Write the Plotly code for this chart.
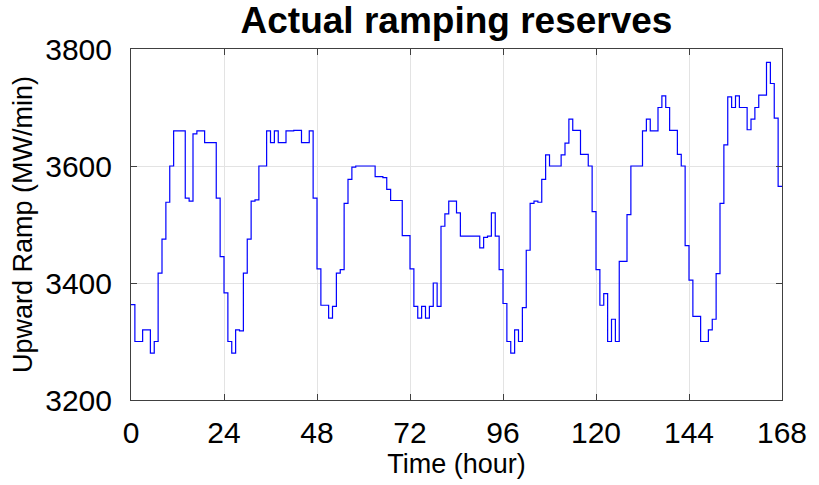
import plotly.graph_objects as go

# Hourly upward ramping reserve over one week (MW/min), one value per hour 0..167
hours = list(range(168))
ramp = [
    3363, 3300, 3300, 3320, 3320, 3280, 3300, 3417, 3475, 3538,
    3600, 3660, 3660, 3660, 3545, 3540, 3655, 3660, 3660, 3640,
    3640, 3640, 3545, 3445, 3383, 3300, 3280, 3320, 3318, 3417,
    3475, 3540, 3542, 3600, 3600, 3660, 3640, 3660, 3640, 3640,
    3660, 3660, 3661, 3661, 3640, 3640, 3660, 3545, 3424, 3362,
    3362, 3340, 3360, 3417, 3423, 3536, 3577, 3598, 3600, 3600,
    3600, 3600, 3600, 3582, 3582, 3580, 3560, 3541, 3541, 3541,
    3481, 3481, 3424, 3360, 3340, 3360, 3340, 3360, 3400, 3360,
    3497, 3518, 3540, 3540, 3520, 3480, 3480, 3480, 3480, 3480,
    3460, 3478, 3480, 3520, 3480, 3423, 3365, 3300, 3280, 3320,
    3300, 3358, 3456, 3536, 3540, 3538, 3577, 3619, 3600, 3600,
    3600, 3619, 3639, 3680, 3661, 3661, 3620, 3620, 3600, 3522,
    3423, 3362, 3382, 3300, 3338, 3300, 3437, 3437, 3517, 3600,
    3600, 3600, 3660, 3680, 3660, 3660, 3700, 3720, 3700, 3661,
    3661, 3620, 3600, 3464, 3405, 3343, 3343, 3300, 3300, 3320,
    3338, 3416, 3536, 3636, 3718, 3700, 3720, 3700, 3700, 3662,
    3680, 3700, 3721, 3721, 3777, 3741, 3682, 3565,
]
x_ticks = [0, 24, 48, 72, 96, 120, 144, 168]
y_ticks = [3200, 3400, 3600, 3800]

# Stairs: hold the last value until the end of the week
x_steps = hours + [168]
y_steps = ramp + [ramp[-1]]

fig = go.Figure(
    go.Scatter(
        x=x_steps,
        y=y_steps,
        mode="lines",
        line=dict(shape="hv", color="#0000ff", width=1.2),
        hoverinfo="x+y",
    )
)

font_family = "Liberation Sans, Arial, Helvetica, sans-serif"
axis_common = dict(
    showline=True,
    linecolor="#404040",
    linewidth=1,
    mirror="ticks",
    ticks="inside",
    ticklen=6,
    tickcolor="#404040",
    showgrid=True,
    gridcolor="#e3e3e3",
    gridwidth=1,
    zeroline=False,
    tickfont=dict(family=font_family, size=30, color="black"),
)

fig.update_xaxes(
    range=[0, 168],
    tickvals=x_ticks,
    ticktext=[str(v) for v in x_ticks],
    title=dict(text="Time (hour)", font=dict(family=font_family, size=27, color="black"), standoff=4),
    ticklabelstandoff=6,
    **axis_common,
)
fig.update_yaxes(
    range=[3200, 3800],
    tickvals=y_ticks,
    ticktext=[str(v) for v in y_ticks],
    title=dict(text="Upward Ramp (MW/min)", font=dict(family=font_family, size=27, color="black"), standoff=4),
    ticklabelstandoff=12,
    **axis_common,
)

fig.update_layout(
    width=819,
    height=485,
    margin=dict(l=131, r=37, t=49, b=85),
    paper_bgcolor="white",
    plot_bgcolor="white",
    showlegend=False,
    title=dict(
        text="<b>Actual ramping reserves</b>",
        font=dict(family=font_family, size=37, color="black"),
        x=0.5,
        xref="paper",
        xanchor="center",
        y=1 - 20 / 485,
        yref="container",
        yanchor="middle",
    ),
)

fig.write_html("out.html")
